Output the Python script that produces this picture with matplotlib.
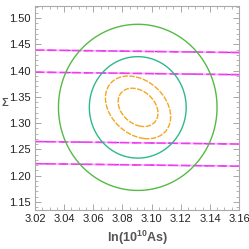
import numpy as np
import matplotlib
matplotlib.use("Agg")
import matplotlib.pyplot as plt
from matplotlib.ticker import MultipleLocator

plt.rcParams['font.family'] = ['Liberation Sans', 'DejaVu Sans']
plt.rcParams['mathtext.fontset'] = 'custom'
plt.rcParams['mathtext.rm'] = 'Liberation Sans:bold'
plt.rcParams['mathtext.bf'] = 'Liberation Sans:bold'

# axis ranges and ticks
x_range = (3.02, 3.16)
y_range = (1.1348, 1.5228)
x_ticks = [3.02, 3.04, 3.06, 3.08, 3.10, 3.12, 3.14, 3.16]
y_ticks = [1.15, 1.20, 1.25, 1.30, 1.35, 1.40, 1.45, 1.50]

# Gaussian posteriors: mean x, mean y, sigma x, sigma y, correlation
wide_mean = (3.0905, 1.330)
wide_sigma = (0.0219, 0.0636)
wide_rho = 0.0

narrow_mean = (3.0907, 1.330)
narrow_sigma = (0.0090, 0.0240)
narrow_rho = -0.30

# near-horizontal band: y at pivot, pivot x, slope, width
band_y0 = 1.3286
band_x0 = 3.09
band_slope = -0.034
band_sigma = 0.0435

levels = [2.30, 6.17]


def chi2_gauss(X, Y, mean, sigma, rho):
    dx = (X - mean[0]) / sigma[0]
    dy = (Y - mean[1]) / sigma[1]
    return (dx**2 - 2 * rho * dx * dy + dy**2) / (1 - rho**2)


xs = np.linspace(x_range[0], x_range[1], 500)
ys = np.linspace(y_range[0], y_range[1], 500)
X, Y = np.meshgrid(xs, ys)

fig = plt.figure(figsize=(2.49, 2.49), dpi=100)
ax = fig.add_axes([0.1406, 0.1566, 0.8194, 0.8193])

# band (magenta with a little purple)
band = ((Y - (band_y0 + band_slope * (X - band_x0))) / band_sigma) ** 2
ax.contour(X, Y, band, levels=levels, colors='#f7b4f7', linewidths=1.3)
ax.contour(X, Y, band, levels=levels, colors='#b52ee0',
           linewidths=0.8, linestyles=[(4, (4, 12))])
ax.contour(X, Y, band, levels=levels, colors='#f23cf2',
           linewidths=1.1, linestyles=[(0, (6, 2))])

# wide solid contours
wide = chi2_gauss(X, Y, wide_mean, wide_sigma, wide_rho)
ax.contour(X, Y, wide, levels=levels, colors=['#2fb98a', '#55bb44'],
           linewidths=1.0)

# narrow dashed contours
narrow = chi2_gauss(X, Y, narrow_mean, narrow_sigma, narrow_rho)
ax.contour(X, Y, narrow, levels=levels, colors='#f5a623',
           linewidths=1.0, linestyles=[(0, (4, 1))])

ax.set_xlim(x_range)
ax.set_ylim(y_range)
ax.set_xticks(x_ticks)
ax.set_yticks(y_ticks)
ax.set_xticklabels([f'{v:.2f}' for v in x_ticks])
ax.set_yticklabels([f'{v:.2f}' for v in y_ticks])
ax.xaxis.set_minor_locator(MultipleLocator(0.005))
ax.yaxis.set_minor_locator(MultipleLocator(0.01))

ax.tick_params(which='both', direction='in', top=True, right=True,
               color='#999999', labelsize=8, labelcolor='#222222', pad=3)
ax.tick_params(which='major', length=4, width=0.6)
ax.tick_params(which='minor', length=2, width=0.5)
for s in ax.spines.values():
    s.set_color('#aaaaaa')
    s.set_linewidth(0.8)

ax.set_xlabel(r'ln(10$^{10}$As)', fontsize=9, fontweight='bold',
              color='#555555', labelpad=3)
ax.set_ylabel('Σ', fontsize=8, fontweight='bold', color='#555555',
              rotation=0, ha='center', va='center')
ax.yaxis.set_label_coords(-0.15, 0.525)

fig.savefig('out.png', dpi=100)
